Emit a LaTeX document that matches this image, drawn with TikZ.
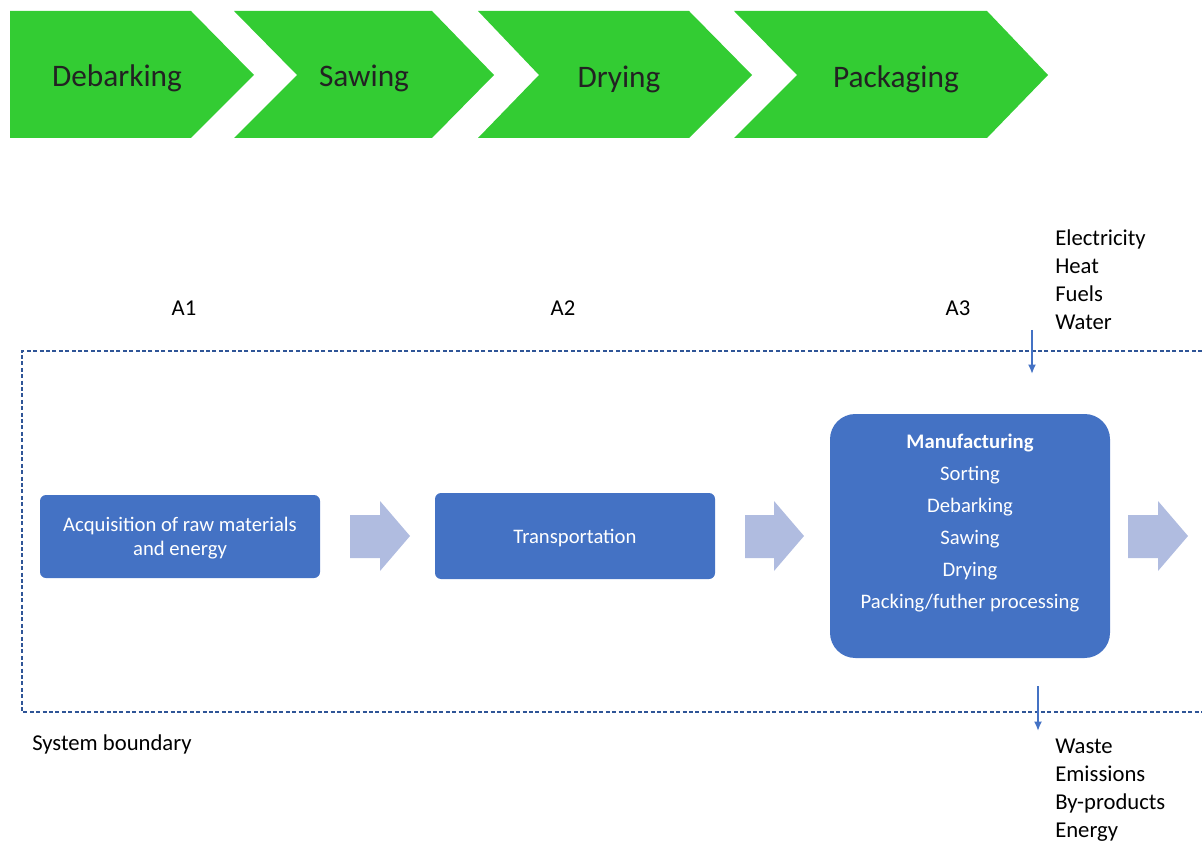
\documentclass[tikz,border=0pt]{standalone}
\usepackage{fontspec}
\setmainfont{Carlito}
\usetikzlibrary{arrows.meta}
\definecolor{chevgreen}{HTML}{33CC33}
\definecolor{boxblue}{HTML}{4472C4}
\definecolor{lightarrow}{HTML}{B0BCE0}
\definecolor{bounddash}{HTML}{2F5597}
\definecolor{chevtext}{HTML}{222222}
\tikzset{
  chev/.style={fill=chevgreen,draw=none},
  chevlabel/.style={text=chevtext,font=\fontsize{23.5}{28}\selectfont,inner sep=0pt},
  bluebox/.style={fill=boxblue,draw=none,text=white,align=center,inner sep=0pt,
    font=\fontsize{15.5}{18}\selectfont},
  blockarrow/.style={fill=lightarrow,draw=none},
  plainlabel/.style={text=black,font=\fontsize{17}{21}\selectfont,inner sep=0pt},
  listlabel/.style={text=black,font=\fontsize{17}{21}\selectfont,inner sep=0pt,align=left,anchor=north west},
  flowline/.style={draw=boxblue,line width=1.5pt,-{Latex[length=7pt,width=6pt]}},
  boundary/.style={draw=bounddash,line width=0.9pt,dash pattern=on 3pt off 1.8pt}
}
\begin{document}
\begin{tikzpicture}[x=0.75pt,y=-0.75pt]
\useasboundingbox (0,0) rectangle (1202,841);
% chevrons
\fill[chev] (10,11) -- (191,11) -- (254,75) -- (191,138) -- (10,138) -- cycle;
\fill[chev] (234,11) -- (432,11) -- (494,75) -- (432,138) -- (234,138) -- (297,75) -- cycle;
\fill[chev] (478,11) -- (689,11) -- (752,75) -- (689,138) -- (478,138) -- (539,75) -- cycle;
\fill[chev] (734,11) -- (987,11) -- (1048,75) -- (987,138) -- (734,138) -- (797,75) -- cycle;
\node[chevlabel] (c1) at (117,78) {Debarking};
\node[chevlabel] (c2) at (364,78) {Sawing};
\node[chevlabel] (c3) at (619,79) {Drying};
\node[chevlabel] (c4) at (896,79) {Packaging};
% stage labels
\node[plainlabel] (a1) at (184,308) {A1};
\node[plainlabel] (a2) at (563,308) {A2};
\node[plainlabel] (a3) at (958,308) {A3};
% inputs
\node[listlabel] (inputs) at (1055,229) {Electricity\\Heat\\Fuels\\Water};
% boundary
\draw[boundary] (1202,351) -- (22,351) -- (22,712) -- (1202,712);
\node[plainlabel,anchor=west] (sb) at (32,744) {System boundary};
% boxes
\node[bluebox,rounded corners=4.5pt,minimum width=210pt,minimum height=62.25pt] (acq) at (180,536.5) {};
\node[bluebox,fill=none] (acqtext) at (180,538.5) {Acquisition of raw materials\\and energy};
\node[bluebox,rounded corners=4.5pt,minimum width=210pt,minimum height=64.5pt] (trans) at (575,536) {};
\node[bluebox,fill=none] (transtext) at (575,538) {Transportation};
\node[bluebox,rounded corners=19pt,minimum width=210pt,minimum height=183pt] (mfg) at (970,536) {};
\node[bluebox,fill=none,font=\fontsize{15.5}{24}\selectfont] (mfgtext) at (970,523)
  {\textbf{Manufacturing}\\Sorting\\Debarking\\Sawing\\Drying\\Packing/futher processing};
% block arrows
\fill[blockarrow] (350,515) -- (380,515) -- (380,501) -- (410,536) -- (380,571) -- (380,558) -- (350,558) -- cycle;
\fill[blockarrow] (745,515) -- (774,515) -- (774,501) -- (804,536) -- (774,571) -- (774,558) -- (745,558) -- cycle;
\fill[blockarrow] (1128,515) -- (1158,515) -- (1158,501) -- (1188,536) -- (1158,571) -- (1158,558) -- (1128,558) -- cycle;
% flow arrows
\coordinate (inS) at (1032,330);
\coordinate (inE) at (1032,374);
\coordinate (outS) at (1038,686);
\coordinate (outE) at (1038,731);
\draw[flowline] (inS) -- (inE);
\draw[flowline] (outS) -- (outE);
% outputs
\node[listlabel] (outputs) at (1055,739) {Waste\\Emissions\\By-products\\Energy};
\end{tikzpicture}
\end{document}
